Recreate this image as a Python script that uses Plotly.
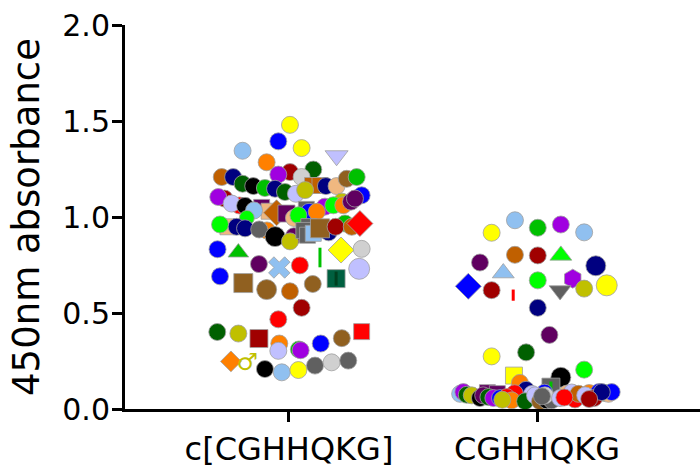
import plotly.graph_objects as go

# ---------------- data ----------------
categories = ["c[CGHHQKG]", "CGHHQKG"]
y_tick_values = [0.0, 0.5, 1.0, 1.5, 2.0]
y_tick_labels = ["0.0", "0.5", "1.0", "1.5", "2.0"]

# absorbance readings, cyclic peptide
cyclic_values = [
    1.480, 1.394, 1.359, 1.345, 1.319, 1.285,
    1.247, 1.234, 1.221, 1.208, 1.208, 1.208, 1.173, 1.161, 1.151, 1.147, 1.130,
    1.121, 1.164, 1.164, 1.140, 1.161, 1.161, 1.199, 1.208,
    1.096, 1.104, 1.060, 1.070, 1.058, 1.050, 1.030, 1.034, 0.995, 1.022, 1.018,
    0.995, 1.040, 1.027, 1.009, 1.045, 1.054, 1.027, 1.080, 1.061, 1.061, 1.113,
    1.080, 1.096,
    0.949, 0.961, 0.949, 0.941, 0.930, 0.935, 0.900, 0.898, 0.873, 0.950, 0.930,
    0.905, 0.915, 0.920, 0.941, 0.966, 0.949, 0.949, 0.966,
    0.832, 0.815, 0.755, 0.737, 0.748, 0.789, 0.828, 0.834,
    0.691, 0.656, 0.622, 0.613, 0.651, 0.679, 0.679, 0.730,
    0.527, 0.467,
    0.401, 0.393, 0.367, 0.341, 0.303, 0.310, 0.306, 0.341, 0.369, 0.403,
    0.248, 0.208, 0.191, 0.203, 0.226, 0.243, 0.252,
]
cyclic_symbol_value = [0.234]   # the reading drawn with the male-sign symbol

# absorbance readings, linear peptide
linear_values = [
    0.983, 0.918, 0.944, 0.961, 0.920,
    0.803, 0.800, 0.800, 0.763, 0.708, 0.746,
    0.670, 0.679, 0.617, 0.627, 0.644, 0.639, 0.619, 0.593, 0.527,
    0.386, 0.274, 0.295, 0.205,
    0.174, 0.136, 0.165, 0.114, 0.110, 0.100,
    0.085, 0.080, 0.082, 0.078, 0.085, 0.080, 0.083, 0.088, 0.079, 0.084, 0.086,
    0.088, 0.074, 0.071, 0.057, 0.071, 0.062, 0.057, 0.057, 0.062, 0.045,
    0.040, 0.071, 0.040, 0.045, 0.045, 0.071, 0.057, 0.050, 0.079, 0.071,
    0.057, 0.079, 0.088, 0.088, 0.060, 0.052, 0.066, 0.048,
]

# ---------------- styles (colour, symbol, size, column spread) ----------------
C = {
    "K": "#000000", "R": "#ff0000", "B": "#0000ff", "G": "#00c000",
    "BG": "#00ff00", "P": "#a000e0", "O": "#ff8000", "DR": "#a00000",
    "DG": "#006000", "NV": "#000080", "BO": "#c06000", "BR": "#906020",
    "OL": "#c0c000", "Y": "#ffff00", "LB": "#90c0f0", "LAV": "#c0c0ff",
    "TAN": "#f0b880", "LG": "#d0d0d0", "GR": "#606060", "DP": "#600060",
    "TE": "#006040", "TED": "#004020",
}
c, sq, di = "circle", "square", "diamond"

cyclic_style = [
    ("Y", c, 17, 0.004), ("B", c, 17, -0.043), ("Y", c, 17, 0.051), ("LB", c, 17, -0.187),
    ("LAV", "triangle-down", 20, 0.192), ("O", c, 17, -0.090),
    ("DG", c, 17, 0.098), ("DR", c, 17, 0.004), ("P", c, 17, -0.043), ("LG", c, 17, 0.051),
    ("BO", c, 17, -0.271), ("NV", c, 17, -0.225), ("DG", c, 17, -0.187), ("K", c, 17, -0.144),
    ("G", c, 17, -0.097), ("NV", c, 17, -0.056), ("DG", c, 17, -0.016),
    ("LAV", c, 17, 0.028), ("BO", sq, 16, 0.095), ("BO", sq, 16, 0.125), ("OL", c, 17, 0.065),
    ("NV", c, 17, 0.149), ("TAN", c, 17, 0.192), ("BR", c, 17, 0.233), ("G", c, 17, 0.273),
    ("DR", c, 17, -0.260), ("P", c, 17, -0.285), ("R", c, 17, -0.200), ("LAV", c, 17, -0.231),
    ("K", c, 17, -0.177), ("DP", sq, 16, -0.110), ("TAN", sq, 16, -0.080), ("LB", c, 17, -0.141),
    ("BG", c, 15, -0.170), ("BO", di, 20, -0.050), ("DP", sq, 17, -0.010),
    ("TAN", c, 17, 0.020), ("GR", sq, 16, 0.070), ("B", c, 17, 0.081), ("BG", c, 17, 0.038),
    ("DR", "hexagon", 16, 0.133), ("P", c, 17, 0.145), ("O", c, 17, 0.112), ("OL", c, 17, 0.213),
    ("BG", c, 17, 0.179), ("O", c, 17, 0.219), ("B", c, 17, 0.293),
    ("DP", c, 17, 0.250), ("DP", c, 17, 0.266),
    ("TAN", sq, 16, -0.246), ("BG", c, 17, -0.278), ("NV", c, 17, -0.211), ("NV", c, 17, -0.177),
    ("O", c, 17, -0.089), ("GR", c, 17, -0.120), ("DP", c, 17, 0.020), ("K", c, 20, -0.056),
    ("OL", c, 17, 0.004), ("GR", sq, 16, 0.080), ("GR", sq, 16, 0.060),
    ("GR", sq, 16, 0.075), ("LB", sq, 16, 0.098), ("NV", c, 17, 0.160), ("BR", sq, 19, 0.125),
    ("G", c, 17, 0.226), ("DR", c, 17, 0.188), ("BO", c, 17, 0.253), ("R", di, 20, 0.286),
    ("B", c, 17, -0.288), ("G", "triangle-up", 18, -0.204), ("DP", c, 17, -0.121),
    ("LB", "x", 19, -0.039), ("R", c, 17, 0.044), ("G", "line-ns", 14, 0.125),
    ("Y", di, 20, 0.210), ("LG", c, 17, 0.293),
    ("B", c, 17, -0.278), ("BR", sq, 19, -0.184), ("BR", c, 20, -0.090), ("BO", c, 17, 0.004),
    ("BR", c, 17, 0.096), ("TE", sq, 18, 0.190), ("TED", "line-ns", 10, 0.190), ("LAV", c, 21, 0.283),
    ("DR", c, 17, 0.051), ("R", c, 17, -0.043),
    ("DG", c, 17, -0.289), ("OL", c, 17, -0.204), ("DR", sq, 18, -0.121), ("O", c, 17, -0.039),
    ("LAV", c, 17, -0.043), ("G", c, 17, 0.040), ("P", c, 17, 0.047), ("B", c, 17, 0.128),
    ("BR", c, 17, 0.213), ("R", sq, 16, 0.293),
    ("O", di, 16, -0.234), ("K", c, 17, -0.097), ("LB", c, 17, -0.029), ("Y", c, 17, 0.038),
    ("GR", c, 17, 0.105), ("LG", c, 17, 0.172), ("GR", c, 17, 0.239),
]
cyclic_symbol_style = ("OL", -0.168)

linear_style = [
    ("LB", c, 17, -0.089), ("Y", c, 17, -0.183), ("G", c, 17, 0.003), ("P", c, 17, 0.096),
    ("LB", c, 17, 0.190),
    ("BO", c, 17, -0.089), ("DR", c, 17, 0.003), ("BG", "triangle-up", 19, 0.096),
    ("DP", c, 17, -0.230), ("LB", "triangle-up", 19, -0.136), ("NV", c, 20, 0.237),
    ("BG", c, 17, 0.003), ("P", "hexagon", 19, 0.144), ("GR", "triangle-down", 19, 0.093),
    ("OL", c, 17, 0.190), ("Y", c, 21, 0.281), ("B", di, 20, -0.277), ("DR", c, 17, -0.183),
    ("R", "line-ns", 8, -0.096), ("NV", c, 17, 0.003),
    ("DP", c, 17, 0.050), ("Y", c, 17, -0.183), ("DG", c, 17, -0.044), ("BG", c, 17, 0.190),
    ("Y", sq, 17, -0.093), ("O", c, 17, -0.069), ("K", c, 20, 0.096), ("GR", sq, 18, 0.056),
    ("G", "line-ns", 9, 0.056), ("NV", c, 17, -0.044),
    ("DP", sq, 16, -0.200), ("DP", sq, 16, -0.160), ("R", c, 17, -0.090), ("LAV", c, 17, -0.020),
    ("B", c, 17, 0.030), ("TAN", c, 17, 0.120), ("O", c, 17, 0.210), ("B", c, 17, 0.250),
    ("LB", c, 17, -0.310), ("G", c, 17, 0.270), ("LAV", c, 17, 0.140),
    ("P", c, 17, -0.297), ("DG", c, 17, -0.283), ("OL", c, 17, -0.263), ("K", c, 17, -0.230),
    ("DP", c, 17, -0.217), ("DG", c, 17, -0.196), ("P", c, 17, -0.176), ("B", c, 17, -0.149),
    ("R", c, 17, -0.122), ("O", c, 17, -0.102),
    ("DG", c, 17, -0.048), ("LAV", c, 17, -0.008), ("BR", c, 17, 0.012), ("K", c, 17, 0.039),
    ("GR", c, 17, 0.059), ("LG", c, 17, 0.032), ("LAV", c, 17, 0.093), ("R", c, 17, 0.153),
    ("BO", c, 17, 0.167), ("LAV", c, 17, 0.194),
    ("DR", c, 17, 0.230), ("TAN", c, 17, 0.288), ("B", c, 17, 0.301), ("NV", c, 17, 0.261),
    ("R", c, 17, 0.110), ("DR", c, 17, 0.210), ("GR", c, 17, 0.020), ("OL", c, 17, -0.140),
]


def build_trace(group_index, values, styles):
    xs, cols, syms, sizes, lcols, lwidths = [], [], [], [], [], []
    for v, (col, sym, size, spread) in zip(values, styles):
        xs.append(group_index + spread)
        cols.append(C[col])
        syms.append(sym)
        sizes.append(size)
        if sym.startswith("line"):
            lcols.append(C[col])
            lwidths.append(3)
        else:
            lcols.append("rgba(160,160,160,0.8)")
            lwidths.append(1)
    return go.Scatter(
        x=xs, y=values, mode="markers", showlegend=False, hoverinfo="skip",
        cliponaxis=False,
        marker=dict(color=cols, symbol=syms, size=sizes,
                    line=dict(color=lcols, width=lwidths), opacity=1),
    )


fig = go.Figure()
fig.add_trace(build_trace(0, cyclic_values, cyclic_style))
fig.add_trace(go.Scatter(
    x=[0 + cyclic_symbol_style[1]], y=cyclic_symbol_value, mode="text", text=["♂"],
    textfont=dict(family="DejaVu Sans", size=24, color=C[cyclic_symbol_style[0]]),
    showlegend=False, hoverinfo="skip", cliponaxis=False,
))
fig.add_trace(build_trace(1, linear_values, linear_style))

font = "DejaVu Sans"
fig.update_layout(
    width=700, height=468,
    margin=dict(l=125, r=0, t=25, b=56),
    paper_bgcolor="white", plot_bgcolor="white",
    xaxis=dict(
        range=[-0.661, 1.657], tickmode="array", tickvals=[0, 1], ticktext=categories,
        showline=True, linecolor="black", linewidth=3, showgrid=False, zeroline=False,
        ticks="outside", ticklen=10, tickwidth=3, tickcolor="black",
        tickfont=dict(family=font, size=32, color="black"),
    ),
    yaxis=dict(
        range=[0, 2], tickmode="array", tickvals=y_tick_values, ticktext=y_tick_labels,
        showline=True, linecolor="black", linewidth=3, showgrid=False, zeroline=False,
        ticks="outside", ticklen=10, tickwidth=3, tickcolor="black",
        ticklabelstandoff=-4,
        tickfont=dict(family=font, size=30, color="black"),
        title=dict(text="450nm absorbance", font=dict(family=font, size=37, color="black"),
                   standoff=12),
    ),
)

fig.write_html("out.html")
